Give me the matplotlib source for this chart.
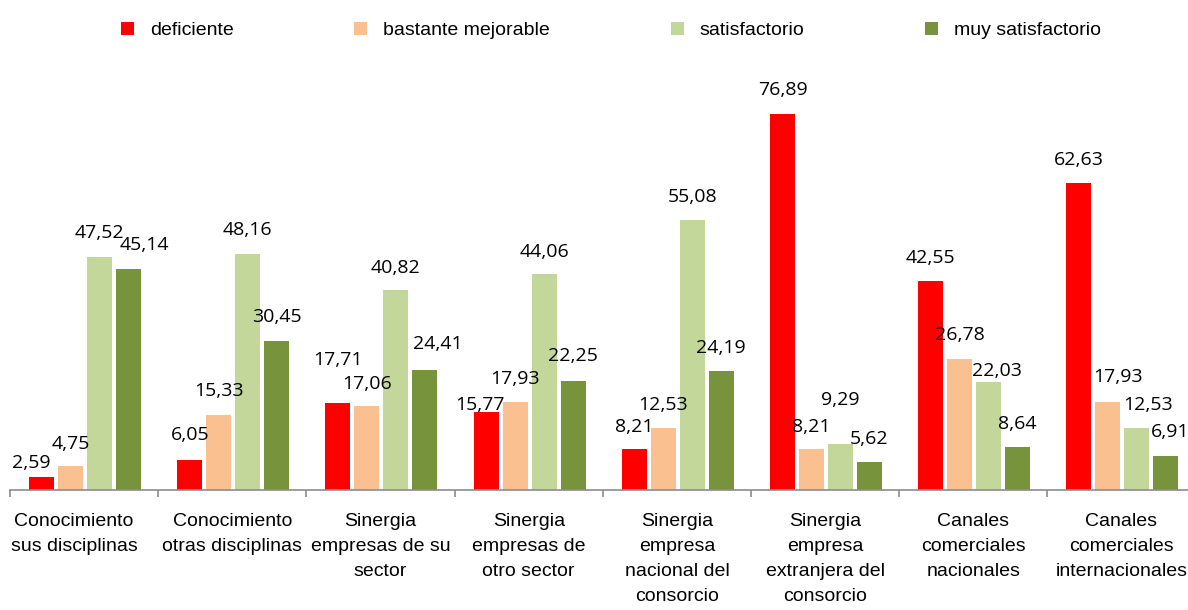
import matplotlib
matplotlib.use("Agg")
import matplotlib.pyplot as plt
import matplotlib.transforms as mtransforms
from matplotlib.patches import Patch
import numpy as np

categories = [
    "Conocimiento\nsus disciplinas",
    "Conocimiento\notras disciplinas",
    "Sinergia\nempresas de su\nsector",
    "Sinergia\nempresas de\notro sector",
    "Sinergia\nempresa\nnacional del\nconsorcio",
    "Sinergia\nempresa\nextranjera del\nconsorcio",
    "Canales\ncomerciales\nnacionales",
    "Canales\ncomerciales\ninternacionales",
]
series_names = ["deficiente", "bastante mejorable", "satisfactorio", "muy satisfactorio"]
deficiente = [2.59, 6.05, 17.71, 15.77, 8.21, 76.89, 42.55, 62.63]
bastante_mejorable = [4.75, 15.33, 17.06, 17.93, 12.53, 8.21, 26.78, 17.93]
satisfactorio = [47.52, 48.16, 40.82, 44.06, 55.08, 9.29, 22.03, 12.53]
muy_satisfactorio = [45.14, 30.45, 24.41, 22.25, 24.19, 5.62, 8.64, 6.91]
series_values = [deficiente, bastante_mejorable, satisfactorio, muy_satisfactorio]
colors = ["#FF0000", "#FAC090", "#C4D79B", "#77933C"]

# label offsets in pixels (dx, dy from bar top to label centre), per series then category
label_dx = [
    [-10.5, 0, 0, -6, 0, 0, 0, 0],
    [0, 0, 0, 0, 0, 0, 0, 10.5],
    [0, 0, 0, 0, 0, 0, 8.5, 11],
    [16, 0, 13, 0, 0, 0, 0, 4],
]
label_dy = [
    [14, 24.5, 43, 7.7, 22.5, 23.7, 23.5, 23.3],
    [22.5, 23.5, 22.5, 23.2, 23, 22.5, 23.7, 24.5],
    [24.5, 24, 22, 22.5, 23.3, 44.2, 10.5, 23.3],
    [24, 23.7, 26.5, 24.5, 23.2, 23, 23, 24],
]

W, H = 1188, 610
fig = plt.figure(figsize=(W / 100, H / 100), dpi=100)
axis_y = 489.5
px_per_unit = 4.89
ymax = 80
group_px = 148.2
ax = fig.add_axes([10 / W, 1 - axis_y / H, 8 * group_px / W, ymax * px_per_unit / H])

n = len(categories)
x = np.arange(n) + 0.5
pitch = 29 / group_px
bw = 25 / group_px
for k, (vals, col) in enumerate(zip(series_values, colors)):
    xs = x + (k - 1.5) * pitch + 0.006
    ax.bar(xs, vals, width=bw, color=col, edgecolor="none", zorder=2)
    for i, v in enumerate(vals):
        ax.annotate(f"{v:.2f}".replace(".", ","), (xs[i], v),
                    xytext=(label_dx[k][i], label_dy[k][i]), textcoords="offset pixels",
                    ha="center", va="center", fontsize=14, family="Open Sans",
                    color="black", zorder=3)

ax.set_xlim(0, n)
ax.set_ylim(0, ymax)
for s in ["top", "right", "left"]:
    ax.spines[s].set_visible(False)
ax.spines["bottom"].set_color("#8C8C8C")
ax.spines["bottom"].set_linewidth(1.2)
ax.set_yticks([])
ax.set_xticks(np.arange(n + 1))
ax.set_xticklabels([])
ax.tick_params(axis="x", which="major", length=5, width=1.2, color="#8C8C8C")
ax.set_xticks(x, minor=True)
ax.set_xticklabels(categories, minor=True, fontsize=14, family="Liberation Sans",
                   linespacing=1.6)
ax.tick_params(axis="x", which="minor", length=0, pad=17)
ax.patch.set_alpha(0)

# first category label sits against the left edge, as in the reference
first = ax.xaxis.get_minorticklabels()[0]
first.set_transform(first.get_transform() +
                    mtransforms.ScaledTranslation(-10 / 100, 0, fig.dpi_scale_trans))

handles = [Patch(facecolor=c, edgecolor="none") for c in colors]
fig.legend(handles, series_names, loc="center left",
           bbox_to_anchor=(121 / W, 1 - 30.5 / H), ncol=4, frameon=False,
           borderpad=0, borderaxespad=0, handlelength=0.67, handleheight=0.67,
           handletextpad=0.82, columnspacing=6.2,
           prop={"family": "Liberation Sans", "size": 14})

fig.savefig("out.png", dpi=100)
